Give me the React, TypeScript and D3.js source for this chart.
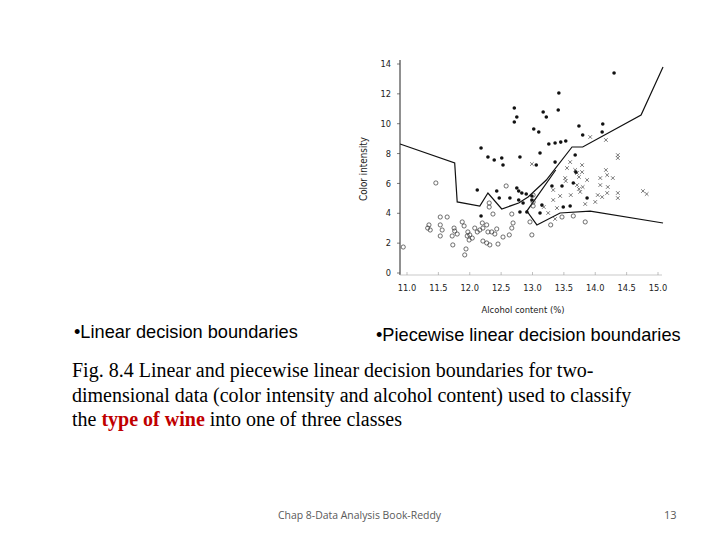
import React from "react";
import * as d3 from "d3";

// Class 1: filled dots [alcohol %, color intensity]
const classDots: [number, number][] = [
  [14.3, 13.4], [12.71, 11.05], [12.75, 10.45], [12.71, 10.11], [13.02, 9.65], [13.1, 9.44],
  [12.18, 8.37], [12.29, 7.77], [12.39, 7.57], [12.51, 7.7], [12.53, 7.23], [12.8, 7.77],
  [13.06, 7.23], [13.42, 12.06], [13.17, 10.78], [13.22, 10.45], [13.41, 10.92], [13.74, 9.85],
  [13.8, 9.24], [14.12, 9.98], [14.11, 9.44], [13.26, 8.64], [13.36, 8.71], [13.45, 8.77],
  [13.53, 8.84], [13.12, 8.04], [13.36, 7.43], [13.68, 7.9], [13.65, 6.03], [13.87, 5.02],
  [13.69, 6.76], [13.31, 5.83], [13.47, 5.83], [13.49, 4.42], [13.6, 4.49], [13.12, 4.02],
  [13.15, 4.55], [12.91, 4.09], [12.12, 5.56], [12.18, 3.82], [12.43, 5.49], [12.75, 5.69],
  [12.78, 5.49], [12.83, 5.36], [12.47, 5.02], [12.64, 5.02], [12.78, 4.89], [12.9, 5.29],
  [12.99, 5.16], [12.85, 4.69], [12.8, 4.09], [12.99, 4.89],
];

// Class 2: open circles
const classCircles: [number, number][] = [
  [11.46, 6.03], [10.94, 1.74], [11.53, 3.75], [11.64, 3.75], [11.35, 3.22], [11.33, 3.01],
  [11.37, 2.88], [11.53, 3.22], [11.56, 2.88], [11.53, 2.48], [11.75, 3.01], [11.76, 2.81],
  [11.8, 2.61], [11.72, 2.48], [11.88, 3.42], [11.91, 3.15], [11.97, 2.75], [12.0, 2.55],
  [12.04, 2.34], [11.96, 2.48], [12.08, 3.01], [12.12, 2.75], [12.16, 2.88], [11.99, 2.21],
  [11.73, 1.88], [11.94, 1.61], [11.92, 1.21], [12.2, 3.35], [12.58, 5.83], [12.31, 4.69],
  [12.31, 4.42], [12.37, 3.95], [12.67, 3.95], [13.01, 4.49], [12.96, 3.42], [12.27, 3.22],
  [12.21, 3.01], [12.29, 2.75], [12.35, 2.75], [12.4, 2.61], [12.43, 2.95], [12.53, 2.41],
  [12.63, 2.55], [12.67, 3.01], [12.69, 3.35], [12.99, 2.55], [12.21, 2.14], [12.27, 2.01],
  [12.32, 1.88], [12.45, 1.94], [13.01, 4.76], [13.29, 3.22], [13.47, 3.75], [13.65, 3.82],
  [13.84, 3.42], [13.01, 5.22],
];

// Class 3: crosses
const classCrosses: [number, number][] = [
  [13.92, 9.11], [14.17, 8.91], [14.36, 7.9], [14.36, 7.7], [12.99, 7.3], [13.6, 7.43],
  [13.79, 7.23], [13.55, 7.03], [13.68, 6.9], [13.79, 6.76], [13.71, 6.7], [14.17, 6.9],
  [14.19, 6.56], [13.52, 6.36], [13.74, 6.43], [14.28, 6.36], [14.08, 6.36], [13.71, 5.89],
  [13.74, 5.63], [13.8, 5.76], [13.87, 6.23], [14.08, 5.89], [14.2, 5.76], [14.19, 5.36],
  [14.36, 5.36], [14.36, 5.02], [14.76, 5.49], [14.82, 5.29], [14.11, 5.09], [13.84, 4.62],
  [14.0, 4.76], [14.04, 5.22], [13.44, 5.16], [13.61, 5.22], [13.33, 4.89], [13.18, 4.42],
  [13.25, 4.02], [13.39, 4.35], [13.33, 5.56], [13.76, 5.43], [13.36, 3.62], [13.53, 6.16],
];

// Piecewise linear decision boundaries
const upperBoundary: [number, number][] = [
  [10.89, 8.64], [11.76, 7.37], [11.8, 4.76], [12.16, 4.49], [12.29, 5.36], [12.51, 4.29],
  [12.78, 4.69], [12.93, 5.09], [13.22, 6.23], [13.63, 8.44], [13.8, 8.44], [14.73, 10.58],
  [15.08, 13.8],
];
const lowerBoundary: [number, number][] = [
  [13.37, 6.9], [12.91, 4.15], [13.07, 3.22], [13.44, 4.02], [13.92, 4.15], [15.08, 3.35],
];

const xTicks = [11.0, 11.5, 12.0, 12.5, 13.0, 13.5, 14.0, 14.5, 15.0];
const yTicks = [0, 2, 4, 6, 8, 10, 12, 14];

const labelLeft = "•Linear decision boundaries";
const labelRight = "•Piecewise linear decision boundaries";
const captionLines = [
  "Fig. 8.4 Linear and piecewise linear decision boundaries for two-",
  "dimensional data (color intensity and alcohol content) used to classify",
];
const footerText = "Chap 8-Data Analysis Book-Reddy";
const pageNumber = "13";

export default function App() {
  const x = d3.scaleLinear().domain([11, 15]).range([407, 658]);
  const y = d3.scaleLinear().domain([0, 14]).range([273, 64]);
  const line = d3
    .line<[number, number]>()
    .x((d) => x(d[0]))
    .y((d) => y(d[1]));
  const axisX = 400;
  const axisY = 275;
  const tickFont = "'DejaVu Sans Condensed', 'DejaVu Sans', sans-serif";

  return (
    <svg
      width={720}
      height={540}
      style={{ position: "absolute", left: 0, top: 0, background: "#fff" }}
    >
      <rect width={720} height={540} fill="#fff" />
      {/* axes */}
      <line x1={axisX} x2={axisX} y1={60} y2={axisY} stroke="#222" strokeWidth={1} />
      <line x1={axisX} x2={662} y1={axisY} y2={axisY} stroke="#bbb" strokeWidth={0.8} />
      {yTicks.map((t) => (
        <g key={"y" + t}>
          <line x1={axisX - 3} x2={axisX} y1={y(t)} y2={y(t)} stroke="#444" strokeWidth={0.7} />
          <text
            x={391}
            y={y(t) + 3.2}
            textAnchor="end"
            fontSize={9.2}
            fontFamily={tickFont}
            fill="#222"
          >
            {t}
          </text>
        </g>
      ))}
      {xTicks.map((t) => (
        <g key={"x" + t}>
          <line x1={x(t)} x2={x(t)} y1={axisY} y2={axisY - 3} stroke="#999" strokeWidth={0.6} />
          <text
            x={x(t)}
            y={291}
            textAnchor="middle"
            fontSize={9.2}
            fontFamily={tickFont}
            fill="#222"
          >
            {t.toFixed(1)}
          </text>
        </g>
      ))}
      <text
        transform={`translate(367,169) rotate(-90)`}
        textAnchor="middle"
        fontSize={9.8}
        fontFamily={tickFont}
        fill="#222"
      >
        Color intensity
      </text>
      <text
        x={523}
        y={313}
        textAnchor="middle"
        fontSize={9.4}
        fontFamily={tickFont}
        fill="#222"
      >
        Alcohol content (%)
      </text>

      {/* boundaries */}
      <path d={line(upperBoundary) || ""} fill="none" stroke="#111" strokeWidth={1.2} />
      <path d={line(lowerBoundary) || ""} fill="none" stroke="#111" strokeWidth={1.2} />

      {/* points */}
      {classCircles.map((d, i) => (
        <circle key={"c" + i} cx={x(d[0])} cy={y(d[1])} r={2.1} fill="none" stroke="#333" strokeWidth={0.7} />
      ))}
      {classCrosses.map((d, i) => {
        const cx = x(d[0]);
        const cy = y(d[1]);
        const s = 1.8;
        return (
          <path
            key={"x" + i}
            d={`M${cx - s},${cy - s}L${cx + s},${cy + s}M${cx - s},${cy + s}L${cx + s},${cy - s}`}
            stroke="#444"
            strokeWidth={0.7}
          />
        );
      })}
      {classDots.map((d, i) => (
        <circle key={"d" + i} cx={x(d[0])} cy={y(d[1])} r={1.8} fill="#111" />
      ))}

      {/* labels */}
      <text x={74} y={338} fontSize={18.2} fontFamily="'Liberation Sans', Arial, sans-serif" fill="#000">
        {labelLeft}
      </text>
      <text x={376} y={341} fontSize={18.2} fontFamily="'Liberation Sans', Arial, sans-serif" fill="#000">
        {labelRight}
      </text>
      {captionLines.map((l, i) => (
        <text
          key={"cap" + i}
          x={72}
          y={377 + i * 24.5}
          fontSize={20}
          fontFamily="'Liberation Serif', 'Times New Roman', serif"
          fill="#000"
        >
          {l}
        </text>
      ))}
      <text x={72} y={426} fontSize={20} fontFamily="'Liberation Serif', 'Times New Roman', serif" fill="#000">
        the{" "}
        <tspan fill="#c00000" fontWeight="bold">
          type of wine
        </tspan>{" "}
        into one of three classes
      </text>
      <text x={278} y={519} fontSize={11} fontFamily="'Open Sans', sans-serif" fill="#595959" textLength={163} lengthAdjust="spacingAndGlyphs">
        {footerText}
      </text>
      <text x={664} y={519} fontSize={11} fontFamily="'Open Sans', sans-serif" fill="#595959">
        {pageNumber}
      </text>
    </svg>
  );
}
